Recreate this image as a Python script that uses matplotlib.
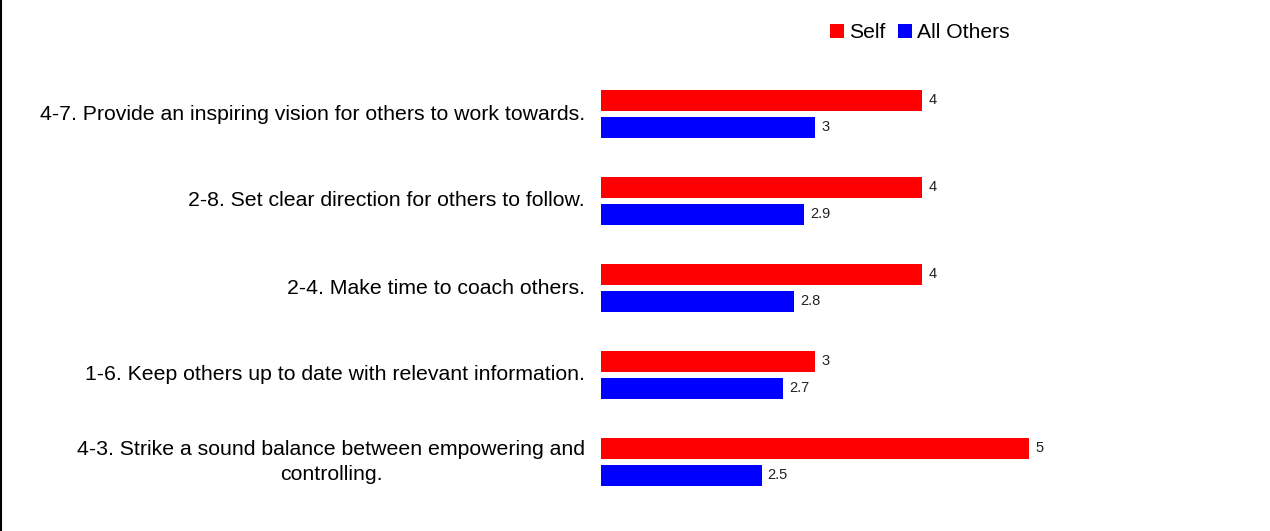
import numpy as np
import matplotlib.pyplot as plt
from matplotlib.lines import Line2D

plt.rcParams['font.family'] = ['Liberation Sans', 'DejaVu Sans']

# data
items = ['4-7. Provide an inspiring vision for others to work towards.',
         '2-8. Set clear direction for others to follow.',
         '2-4. Make time to coach others.',
         '1-6. Keep others up to date with relevant information.',
         '4-3. Strike a sound balance between empowering and\ncontrolling.']
self_vals = [4, 4, 4, 3, 5]
others_vals = [3, 2.9, 2.8, 2.7, 2.5]
series_names = ['Self', 'All Others']
colors = ['#ff0000', '#0000ff']

fig = plt.figure(figsize=(12.7, 5.31), dpi=100)
ax = fig.add_axes([601 / 1270, 1 - 505.5 / 531, 535 / 1270, 435 / 531])

y = np.arange(len(items))
h = 0.24
off = 0.155
b1 = ax.barh(y - off, self_vals, height=h, color=colors[0], label=series_names[0])
b2 = ax.barh(y + off, others_vals, height=h, color=colors[1], label=series_names[1])

for bars, vals in [(b1, self_vals), (b2, others_vals)]:
    for bar, v in zip(bars, vals):
        ax.annotate(f'{v:g}', (bar.get_width(), bar.get_y() + bar.get_height() / 2),
                    xytext=(4.5, 0.5), textcoords='offset points', va='center', ha='left',
                    fontsize=10.5, color='#222222')

ax.set_xlim(1, 6)
ax.set_ylim(4.5, -0.5)
ax.set_yticks(y)
ax.set_yticklabels(items, fontsize=15.3, multialignment='center', linespacing=1.45, va='center')
ax.tick_params(axis='y', length=0, pad=11.5)
ax.set_xticks([])
for s in ax.spines.values():
    s.set_visible(False)

fig.legend(handles=[b1, b2], loc='center', bbox_to_anchor=(920 / 1270, 1 - 33 / 531),
           ncol=2, frameon=False, fontsize=15.2, handlelength=0.65, handleheight=0.65,
           handletextpad=0.25, columnspacing=0.6)

# left border
fig.add_artist(Line2D([0.001, 0.001], [0, 1], color='black', lw=1.5, transform=fig.transFigure))

fig.savefig('out.png', dpi=100)
